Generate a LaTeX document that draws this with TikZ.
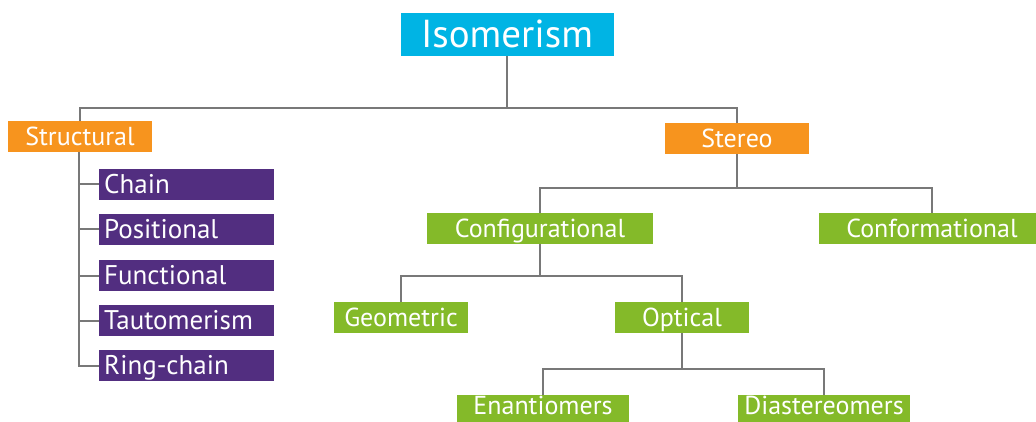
\documentclass[tikz,border=0pt]{standalone}
\usepackage{fontspec}
\setmainfont{PT Sans}
\usepackage{tikz}
\usetikzlibrary{shapes,arrows,positioning}
\definecolor{isocyan}{RGB}{0,180,228}
\definecolor{isoorange}{RGB}{247,148,30}
\definecolor{isopurple}{RGB}{82,46,128}
\definecolor{isogreen}{RGB}{132,186,41}
\definecolor{isogray}{RGB}{120,120,120}
\tikzstyle{box} = [rectangle, inner sep = 0pt, text = white, text height = 18pt, text depth = 0pt, font = \fontsize{26}{30}\selectfont, minimum height = 31pt]
\tikzstyle{topbox} = [box, fill = isocyan, minimum width = 213pt, minimum height = 43pt, text height = 27pt, font = \fontsize{39}{44}\selectfont]
\tikzstyle{obox} = [box, fill = isoorange, minimum width = 144pt]
\tikzstyle{gbox} = [box, fill = isogreen]
\tikzstyle{pbox} = [box, fill = isopurple, anchor = west, minimum width = 175pt, text width = 165pt, align = left, font = \fontsize{27}{30}\selectfont]
\tikzstyle{line} = [draw, isogray, line width = 2pt]

\begin{document}
\begin{tikzpicture}[x = 1pt, y = -1pt]
				\useasboundingbox (0,0) rectangle (1036,422);
				\node [topbox] (iso) at (507, 34.5) {Isomerism};
				\node [obox] (struct) at (80, 136.5) {Structural};
				\node [obox] (stereo) at (737, 138.5) {Stereo};
				\node [pbox] (chain) at (99, 184.5) {Chain};
				\node [pbox] (pos) at (99, 229.5) {Positional};
				\node [pbox] (func) at (99, 275.5) {Functional};
				\node [pbox] (taut) at (99, 320.5) {Tautomerism};
				\node [pbox] (ring) at (99, 365.5) {Ring-chain};
				\node [gbox, minimum width = 226pt] (config) at (540, 228.5) {Configurational};
				\node [gbox, minimum width = 226pt] (conform) at (932, 228.5) {Conformational};
				\node [gbox, minimum width = 134pt] (geo) at (401, 317.5) {Geometric};
				\node [gbox, minimum width = 134pt] (optical) at (682, 317.5) {Optical};
				\node [gbox, minimum width = 172pt, minimum height = 27pt, text depth = 6pt] (enant) at (543, 408.5) {Enantiomers};
				\node [gbox, minimum width = 172pt, minimum height = 27pt, text depth = 6pt] (diast) at (824, 408.5) {Diastereomers};

				\coordinate (j0) at (507, 108);
				\coordinate (j1) at (737, 188);
				\coordinate (j2) at (540, 276);
				\coordinate (j3) at (682, 369);

				\path [line] (iso) -- (j0);
				\path [line] (j0) -| (struct);
				\path [line] (j0) -| (stereo);
				\path [line] ([xshift=-1pt]struct.south) |- (chain);
				\path [line] ([xshift=-1pt]struct.south) |- (pos);
				\path [line] ([xshift=-1pt]struct.south) |- (func);
				\path [line] ([xshift=-1pt]struct.south) |- (taut);
				\path [line] ([xshift=-1pt]struct.south) |- (ring);
				\path [line] (stereo) -- (j1);
				\path [line] (j1) -| (config);
				\path [line] (j1) -| (conform);
				\path [line] (config) -- (j2);
				\path [line] (j2) -| (geo);
				\path [line] (j2) -| (optical);
				\path [line] (optical) -- (j3);
				\path [line] (j3) -| (enant);
				\path [line] (j3) -| (diast);
			\end{tikzpicture}
\end{document}
